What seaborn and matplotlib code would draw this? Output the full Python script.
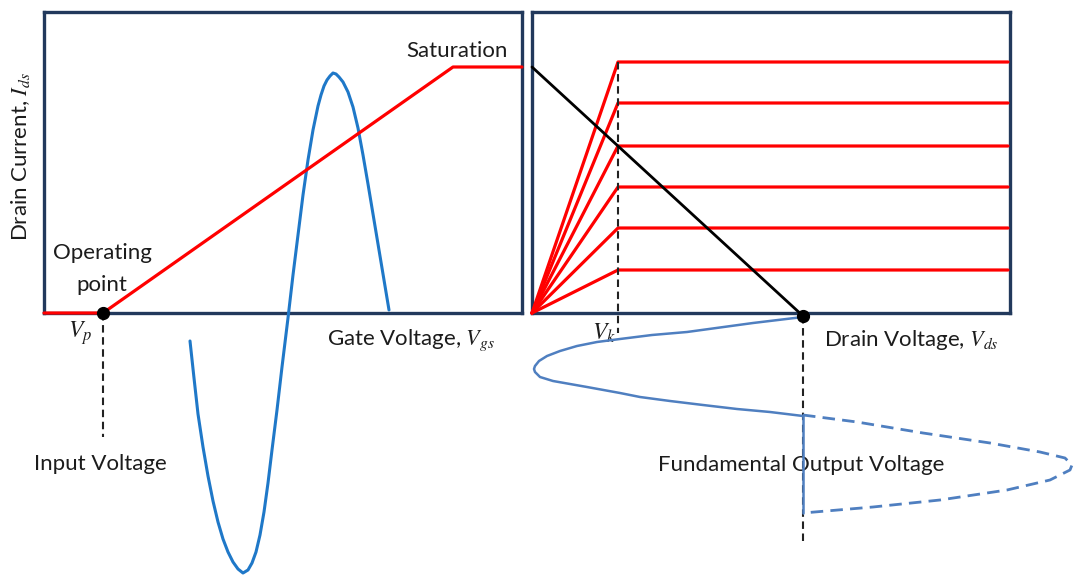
import matplotlib
matplotlib.use("Agg")
import matplotlib.pyplot as plt
import seaborn as sns
import pandas as pd

# ---- transfer characteristic (left panel), arbitrary units ----
transfer_vgs = [0, 59, 409, 478]
transfer_ids = [0, 0, 246, 246]
operating_point = (59, 0)

# input voltage swing drawn against the gate-voltage axis (time runs downward)
input_vgs = [146, 150, 154, 159, 164, 169, 174, 179, 184, 189, 194, 199, 204, 208,
             212, 216, 220, 224, 228, 233, 238, 244, 249, 254, 259, 264, 269, 274,
             277, 280, 283, 286, 289, 292, 295, 299, 304, 309, 314, 319, 324, 329,
             334, 339, 345]
input_ids = [-28, -65, -101, -134, -163, -188, -209, -226, -239, -249, -256, -260,
             -257, -250, -239, -222, -199, -170, -137, -97, -54, -5, 38, 78, 118,
             153, 183, 207, 218, 227, 233, 237, 240, 239, 236, 231, 221, 206, 185,
             158, 129, 99, 69, 39, 3]

# ---- output characteristic (right panel) ----
knee_vds = 86
vds_max = 476
sat_levels = [251, 210, 167, 126, 85, 43]
load_vds = [0, 271]
load_ids = [246, -3]
q_point = (271, -3)

# fundamental output voltage: solid half cycle, clipped half (dashed)
out_vds = [271, 221, 155, 120, 88, 65, 45, 28, 15, 7, 3, 2, 3, 8, 21, 55, 88, 108,
           138, 171, 205, 238, 271]
out_t = [-4, -10, -19, -22, -26, -29, -33, -38, -43, -48, -53, -56, -59, -64, -68,
         -74, -80, -84, -88, -92, -96, -99, -103]
clip_vds = [271, 325, 391, 458, 508, 533, 540, 538, 518, 475, 408, 341, 271]
clip_t = [-102, -109, -120, -130, -139, -145, -152, -157, -167, -177, -187, -194, -200]
clip_bottom = -200

sns.set_theme(style="white")
plt.rcParams["font.family"] = ["Lato", "DejaVu Sans"]
plt.rcParams["mathtext.fontset"] = "stix"

RED = "#ff0000"
NAVY = "#22395c"
BLUE_IN = "#1f78c8"
BLUE_OUT = "#4f7fc0"
TXT = "#1c1c1c"
FS = 16

fig = plt.figure(figsize=(10.76, 5.76), dpi=100)
ax_l = fig.add_axes([44 / 1076, 263 / 576, 478 / 1076, 301 / 576])
ax_r = fig.add_axes([532 / 1076, 263 / 576, 478 / 1076, 301 / 576])

for ax in (ax_l, ax_r):
    ax.set_xlim(0, 478)
    ax.set_ylim(0, 301)
    ax.set_xticks([])
    ax.set_yticks([])
    ax.set_xlabel("")
    ax.set_ylabel("")
    for sp in ax.spines.values():
        sp.set_visible(True)
        sp.set_color(NAVY)
        sp.set_linewidth(2.4)
        sp.set_zorder(2)

dash_k = (0, (3.6, 2.2))

# ---- left panel ----
sns.lineplot(x=input_vgs, y=input_ids, sort=False, estimator=None, color=BLUE_IN,
             lw=2.2, ax=ax_l, zorder=3)
sns.lineplot(x=transfer_vgs, y=transfer_ids, sort=False, estimator=None, color=RED,
             lw=2.3, ax=ax_l, zorder=4)
ax_l.plot([operating_point[0]] * 2, [operating_point[1], -124], color="#222222",
          lw=1.5, ls=dash_k, zorder=2)
ax_l.plot(*operating_point, "o", color="black", ms=8.5, zorder=6)

ax_l.text(464, 262, "Saturation", ha="right", va="center", fontsize=FS, color=TXT)
ax_l.text(58, 60, "Operating", ha="center", va="center", fontsize=FS, color=TXT)
ax_l.text(58, 28, "point", ha="center", va="center", fontsize=FS, color=TXT)
ax_l.text(36, -20, r"$V_p$", ha="center", va="center", fontsize=FS + 1, color=TXT)
ax_l.text(283, -27, r"Gate Voltage, $V_{gs}$", ha="left", va="center",
          fontsize=FS, color=TXT)
ax_l.text(56, -151, "Input Voltage", ha="center", va="center", fontsize=FS, color=TXT)
ax_l.text(-24, 156, r"Drain Current, $I_{ds}$", ha="center", va="center",
          rotation=90, fontsize=FS, color=TXT)

# ---- right panel ----
curves = []
for i, lev in enumerate(sat_levels):
    for v, c in zip([0, knee_vds, vds_max], [0, lev, lev]):
        curves.append({"vds": v, "ids": c, "curve": i})
curves = pd.DataFrame(curves)
sns.lineplot(data=curves, x="vds", y="ids", units="curve", estimator=None, sort=False,
             color=RED, lw=2.3, ax=ax_r, zorder=3, legend=False)
ax_r.plot([knee_vds] * 2, [sat_levels[0], -20], color="#222222", lw=1.5, ls=dash_k,
          zorder=4)
sns.lineplot(x=load_vds, y=load_ids, sort=False, estimator=None, color="black",
             lw=2.0, ax=ax_r, zorder=5)
ax_r.plot([q_point[0]] * 2, [q_point[1], -230], color="#222222", lw=1.5, ls=dash_k,
          zorder=4)
sns.lineplot(x=out_vds, y=out_t, sort=False, estimator=None, color=BLUE_OUT,
             lw=1.8, ax=ax_r, zorder=5)
sns.lineplot(x=clip_vds, y=clip_t, sort=False, estimator=None, color=BLUE_OUT,
             lw=2.0, ax=ax_r, zorder=5, linestyle=(0, (4.5, 2.6)))
ax_r.plot([q_point[0]] * 2, [clip_t[0], clip_bottom], color=BLUE_OUT, lw=1.8, zorder=5)
ax_r.plot(*q_point, "o", color="black", ms=8.5, zorder=6)

ax_r.text(72, -20, r"$V_k$", ha="center", va="center", fontsize=FS + 1, color=TXT)
ax_r.text(292, -27, r"Drain Voltage, $V_{ds}$", ha="left", va="center",
          fontsize=FS, color=TXT)
ax_r.text(269, -152, "Fundamental Output Voltage", ha="center", va="center",
          fontsize=FS, color=TXT)

for ax in (ax_l, ax_r):
    if ax.get_legend() is not None:
        ax.get_legend().remove()
    for ln in ax.lines:
        ln.set_clip_on(False)

fig.savefig("out.png", dpi=100)
